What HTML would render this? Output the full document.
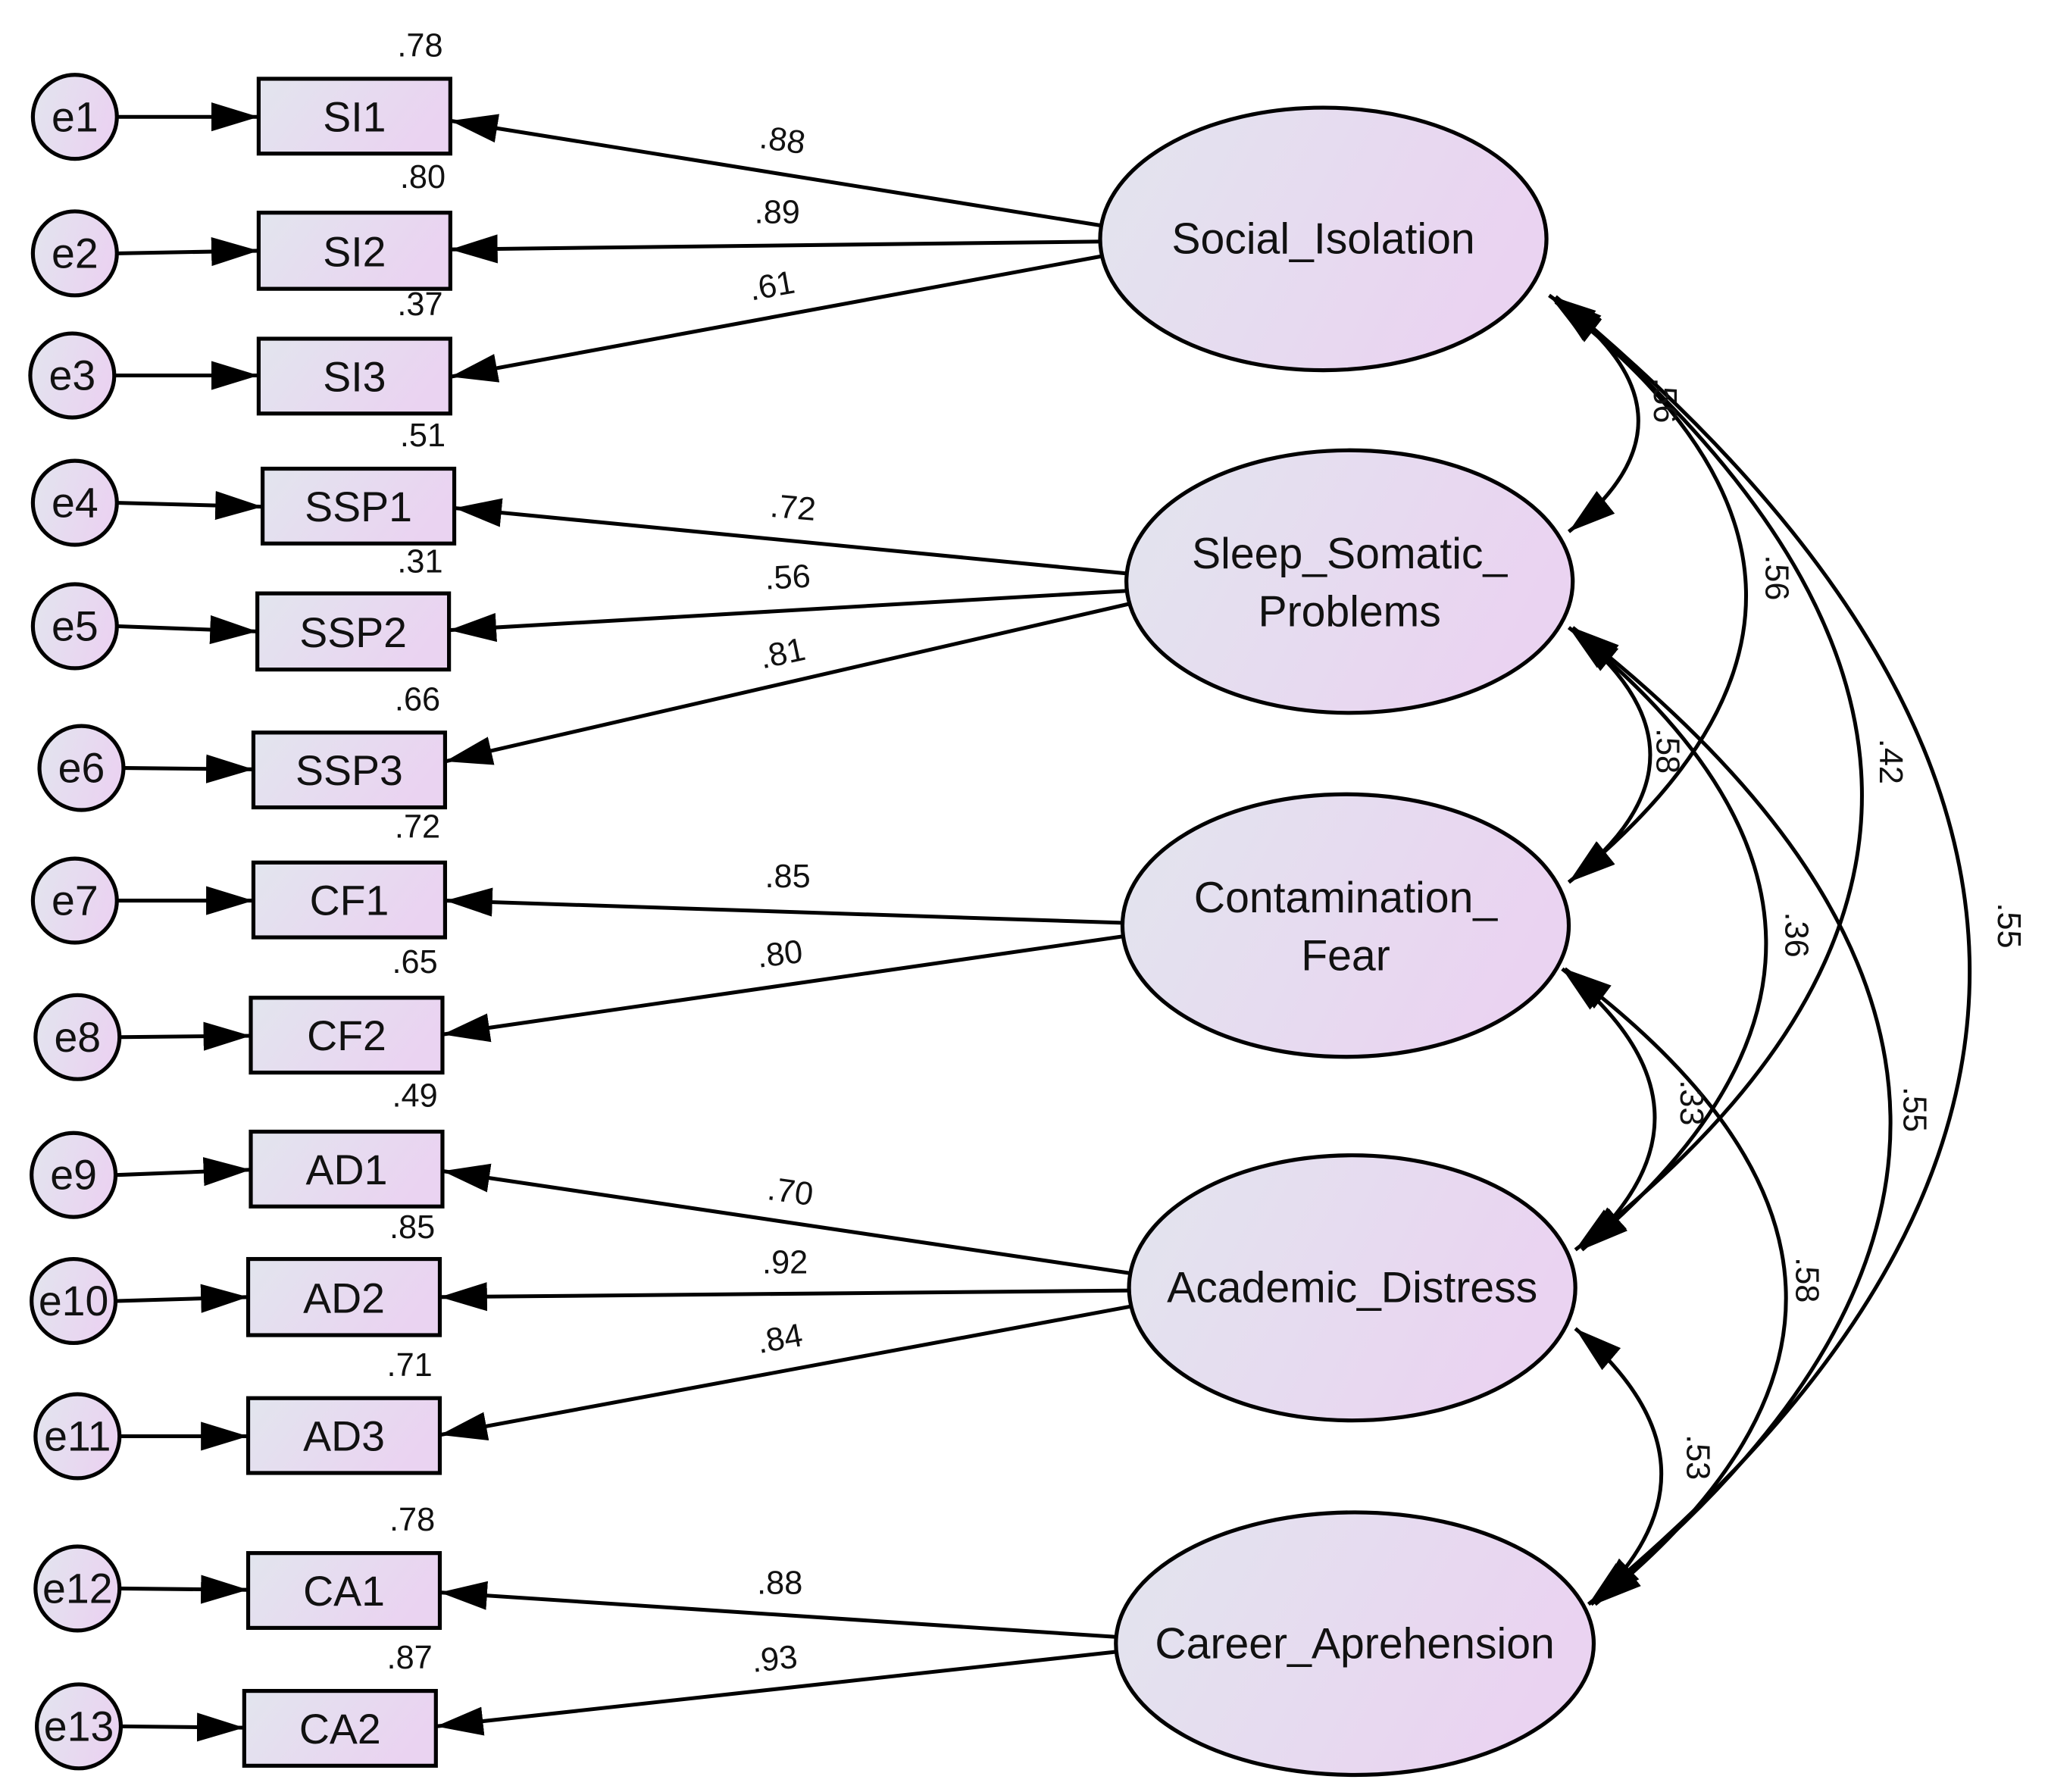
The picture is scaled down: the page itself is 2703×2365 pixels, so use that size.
<!DOCTYPE html>
<html><head><meta charset="utf-8"><style>
html,body{margin:0;padding:0;background:#fff;}
svg{display:block;}
text{font-family:"Liberation Sans",Arial,sans-serif;fill:#111;}
</style></head><body>
<svg width="2703" height="2365" viewBox="0 0 1560 1365" xmlns="http://www.w3.org/2000/svg">
<defs>
<linearGradient id="g" x1="0" y1="0" x2="1" y2="0.3">
<stop offset="0" stop-color="#e2e5ee"/><stop offset="1" stop-color="#ead3f1"/></linearGradient>
<marker id="a" markerUnits="userSpaceOnUse" markerWidth="40" markerHeight="26" refX="36" refY="11" orient="auto-start-reverse">
<path d="M0,0 L36,11 L0,22 z" fill="#000"/></marker>
</defs>
<g stroke="#000" stroke-width="2.9" fill="none">
<line x1="90" y1="89" x2="197" y2="89" marker-end="url(#a)"/>
<line x1="90" y1="193" x2="197" y2="191" marker-end="url(#a)"/>
<line x1="88" y1="286" x2="197" y2="286" marker-end="url(#a)"/>
<line x1="90" y1="383" x2="200" y2="386" marker-end="url(#a)"/>
<line x1="90" y1="477" x2="196" y2="481" marker-end="url(#a)"/>
<line x1="95" y1="585" x2="193" y2="586" marker-end="url(#a)"/>
<line x1="90" y1="686" x2="193" y2="686" marker-end="url(#a)"/>
<line x1="92" y1="790" x2="191" y2="789" marker-end="url(#a)"/>
<line x1="89" y1="895" x2="191" y2="891" marker-end="url(#a)"/>
<line x1="89" y1="991" x2="189" y2="988" marker-end="url(#a)"/>
<line x1="92" y1="1094" x2="189" y2="1094" marker-end="url(#a)"/>
<line x1="92" y1="1210" x2="189" y2="1211" marker-end="url(#a)"/>
<line x1="93" y1="1315" x2="186" y2="1316" marker-end="url(#a)"/>
<line x1="840" y1="172" x2="343" y2="92" marker-end="url(#a)"/>
<line x1="840" y1="184" x2="343" y2="190" marker-end="url(#a)"/>
<line x1="840" y1="195" x2="343" y2="287" marker-end="url(#a)"/>
<line x1="860" y1="437" x2="346" y2="387" marker-end="url(#a)"/>
<line x1="860" y1="450" x2="342" y2="480" marker-end="url(#a)"/>
<line x1="860" y1="460" x2="339" y2="580" marker-end="url(#a)"/>
<line x1="857" y1="703" x2="339" y2="686" marker-end="url(#a)"/>
<line x1="857" y1="713" x2="337" y2="788" marker-end="url(#a)"/>
<line x1="862" y1="970" x2="337" y2="892" marker-end="url(#a)"/>
<line x1="862" y1="983" x2="335" y2="988" marker-end="url(#a)"/>
<line x1="862" y1="995" x2="335" y2="1093" marker-end="url(#a)"/>
<line x1="852" y1="1247" x2="335" y2="1213" marker-end="url(#a)"/>
<line x1="852" y1="1258" x2="332" y2="1315" marker-end="url(#a)"/>
<path d="M1180,225 Q1308,315 1195,405" marker-start="url(#a)" marker-end="url(#a)"/>
<path d="M1185,230 Q1470,449 1195,672" marker-start="url(#a)" marker-end="url(#a)"/>
<path d="M1185,228 Q1644,610 1200,952" marker-start="url(#a)" marker-end="url(#a)"/>
<path d="M1185,226 Q1803,736 1210,1222" marker-start="url(#a)" marker-end="url(#a)"/>
<path d="M1195,478 Q1319,575 1195,672" marker-start="url(#a)" marker-end="url(#a)"/>
<path d="M1198,480 Q1489,716 1205,952" marker-start="url(#a)" marker-end="url(#a)"/>
<path d="M1198,478 Q1675,850 1212,1222" marker-start="url(#a)" marker-end="url(#a)"/>
<path d="M1190,738 Q1323,845 1205,952" marker-start="url(#a)" marker-end="url(#a)"/>
<path d="M1192,738 Q1517,980 1215,1222" marker-start="url(#a)" marker-end="url(#a)"/>
<path d="M1200,1012 Q1323,1116 1215,1220" marker-start="url(#a)" marker-end="url(#a)"/>
</g>
<g stroke="#000" stroke-width="3" fill="url(#g)">
<circle cx="57" cy="89" r="32"/><circle cx="57" cy="193" r="32"/><circle cx="55" cy="286" r="32"/>
<circle cx="57" cy="383" r="32"/><circle cx="57" cy="477" r="32"/><circle cx="62" cy="585" r="32"/>
<circle cx="57" cy="686" r="32"/><circle cx="59" cy="790" r="32"/><circle cx="56" cy="895" r="32"/>
<circle cx="56" cy="991" r="32"/><circle cx="59" cy="1094" r="32"/><circle cx="59" cy="1210" r="32"/>
<circle cx="60" cy="1315" r="32"/>
<rect x="197" y="60" width="146" height="57"/><rect x="197" y="162" width="146" height="58"/>
<rect x="197" y="258" width="146" height="57"/><rect x="200" y="357" width="146" height="57"/>
<rect x="196" y="452" width="146" height="58"/><rect x="193" y="558" width="146" height="57"/>
<rect x="193" y="657" width="146" height="57"/><rect x="191" y="760" width="146" height="57"/>
<rect x="191" y="862" width="146" height="57"/><rect x="189" y="959" width="146" height="58"/>
<rect x="189" y="1065" width="146" height="57"/><rect x="189" y="1183" width="146" height="57"/>
<rect x="186" y="1288" width="146" height="57"/>
<ellipse cx="1008" cy="182" rx="170" ry="100"/>
<ellipse cx="1028" cy="443" rx="170" ry="100"/>
<ellipse cx="1025" cy="705" rx="170" ry="100"/>
<ellipse cx="1030" cy="981" rx="170" ry="101"/>
<ellipse cx="1032" cy="1252" rx="182" ry="100"/>
</g>
<g font-size="32" text-anchor="middle">
<text x="57" y="100">e1</text><text x="57" y="204">e2</text><text x="55" y="297">e3</text>
<text x="57" y="394">e4</text><text x="57" y="488">e5</text><text x="62" y="596">e6</text>
<text x="57" y="697">e7</text><text x="59" y="801">e8</text><text x="56" y="906">e9</text>
<text x="56" y="1002">e10</text><text x="59" y="1105">e11</text><text x="59" y="1221">e12</text>
<text x="60" y="1326">e13</text>
<text x="270" y="100">SI1</text><text x="270" y="203">SI2</text><text x="270" y="298">SI3</text>
<text x="273" y="397">SSP1</text><text x="269" y="493">SSP2</text><text x="266" y="598">SSP3</text>
<text x="266" y="697">CF1</text><text x="264" y="800">CF2</text><text x="264" y="902">AD1</text>
<text x="262" y="1000">AD2</text><text x="262" y="1105">AD3</text><text x="262" y="1223">CA1</text>
<text x="259" y="1328">CA2</text>
</g>
<g font-size="33" text-anchor="middle">
<text x="1008" y="193">Social_Isolation</text>
<text x="1028" y="433">Sleep_Somatic_</text><text x="1028" y="477">Problems</text>
<text x="1025" y="695">Contamination_</text><text x="1025" y="739">Fear</text>
<text x="1030" y="992">Academic_Distress</text>
<text x="1032" y="1263">Career_Aprehension</text>
</g>
<g font-size="25" text-anchor="middle">
<text x="320" y="43">.78</text><text x="322" y="143">.80</text><text x="320" y="240">.37</text>
<text x="322" y="340">.51</text><text x="320" y="436">.31</text><text x="318" y="541">.66</text>
<text x="318" y="638">.72</text><text x="316" y="741">.65</text><text x="316" y="843">.49</text>
<text x="314" y="943">.85</text><text x="312" y="1048">.71</text><text x="314" y="1166">.78</text>
<text x="312" y="1271">.87</text>
<text x="596" y="115" transform="rotate(8 596 107)">.88</text>
<text x="592" y="170">.89</text>
<text x="588" y="226" transform="rotate(-10 588 218)">.61</text>
<text x="604" y="395" transform="rotate(5 604 387)">.72</text>
<text x="600" y="448" transform="rotate(-3 600 440)">.56</text>
<text x="596" y="506" transform="rotate(-12 596 498)">.81</text>
<text x="600" y="676">.85</text>
<text x="594" y="735" transform="rotate(-7 594 727)">.80</text>
<text x="602" y="916" transform="rotate(8 602 908)">.70</text>
<text x="598" y="970">.92</text>
<text x="594" y="1028" transform="rotate(-10 594 1020)">.84</text>
<text x="594" y="1214">.88</text>
<text x="590" y="1272" transform="rotate(-6 590 1264)">.93</text>
<g transform="rotate(90)">
<text x="305" y="-1260">.56</text>
<text x="440" y="-1345">.56</text>
<text x="580" y="-1432">.42</text>
<text x="705" y="-1522">.55</text>
<text x="572" y="-1262">.58</text>
<text x="712" y="-1360">.36</text>
<text x="845" y="-1450">.55</text>
<text x="840" y="-1280">.33</text>
<text x="975" y="-1368">.58</text>
<text x="1110" y="-1285">.53</text>
</g>
</g>
</svg>
</body></html>
